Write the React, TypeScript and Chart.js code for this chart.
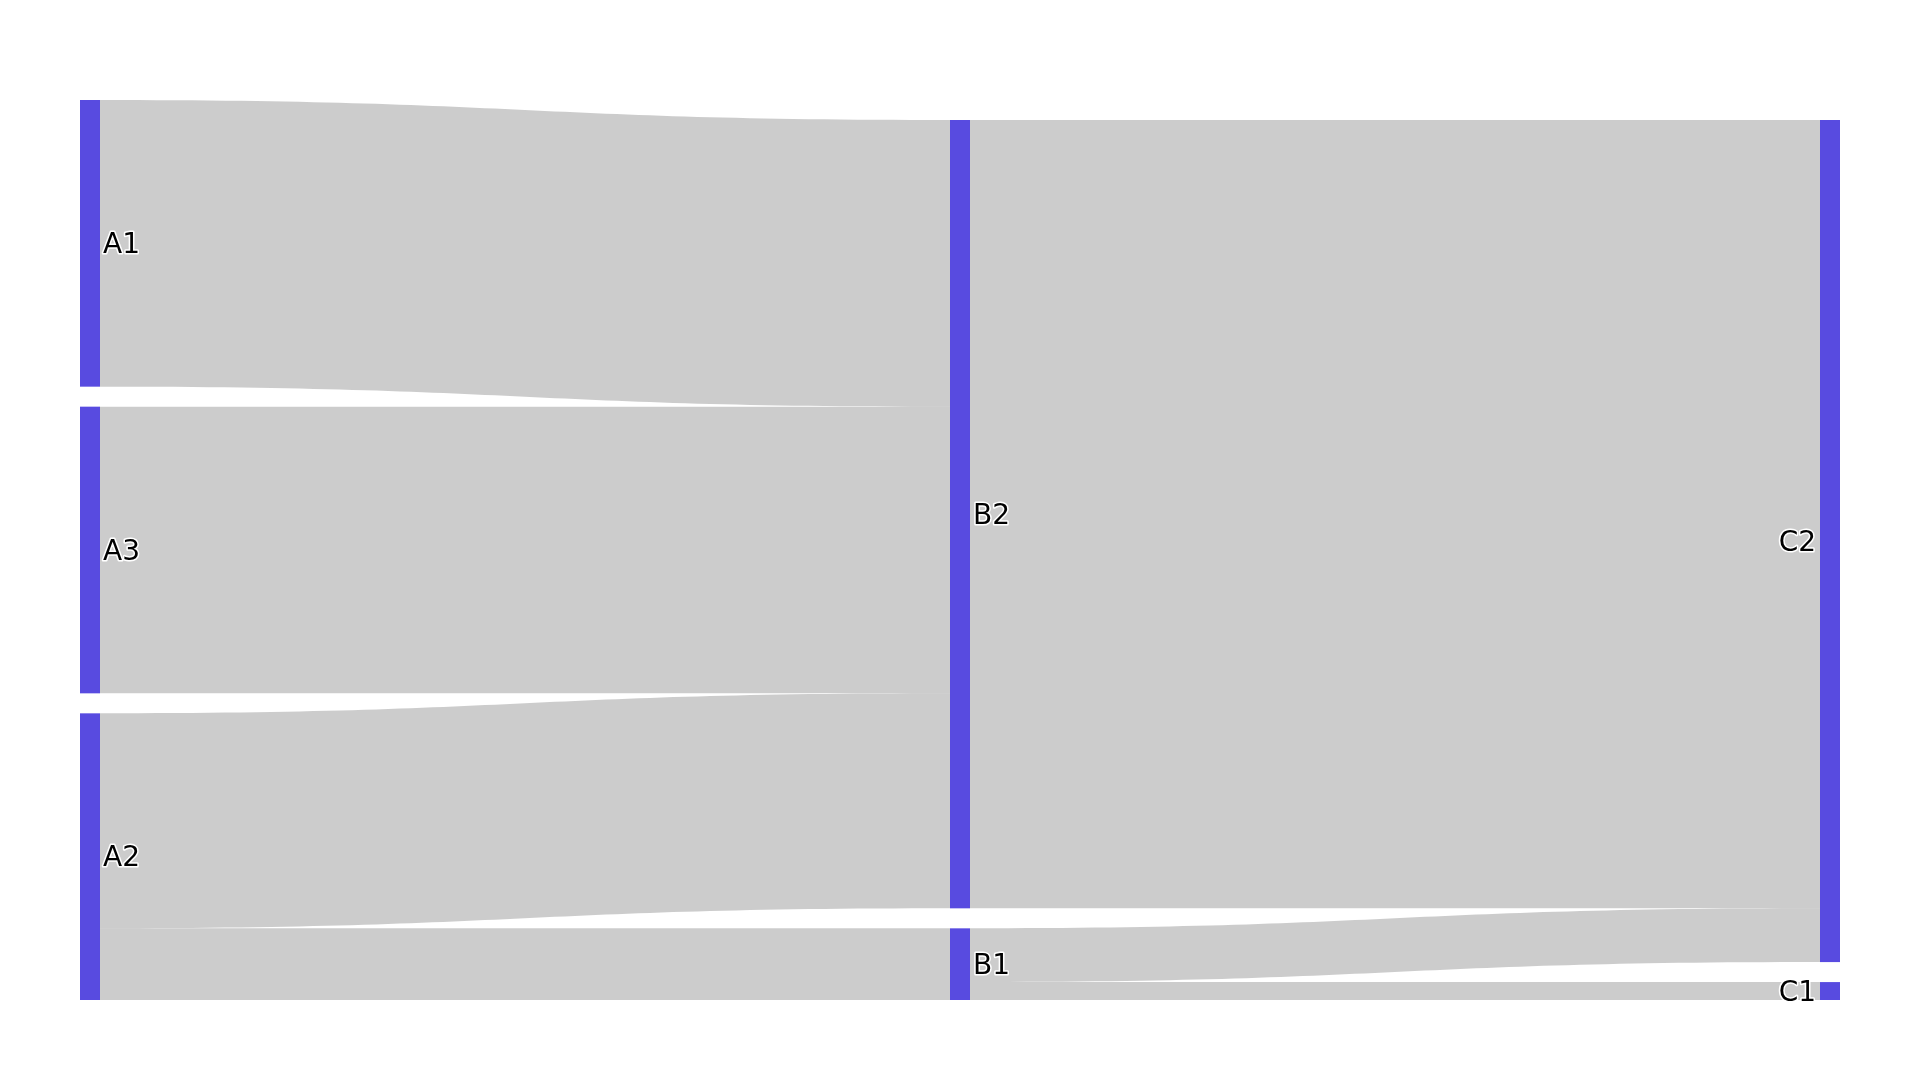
import React, { useEffect, useRef } from 'react';
import { Chart, registerables } from 'chart.js';

Chart.register(...registerables);

// ---- data ----
const NODE_LABELS = ['A1', 'A3', 'A2', 'B2', 'B1', 'C2', 'C1'];
const NODE_COLUMNS = [0, 0, 0, 1, 1, 2, 2];
const LINK_SOURCES = ['A1', 'A3', 'A2', 'A2', 'B2', 'B1', 'B1'];
const LINK_TARGETS = ['B2', 'B2', 'B2', 'B1', 'C2', 'C2', 'C1'];
const LINK_VALUES = [16, 16, 12, 4, 44, 3, 1];

// ---- style ----
const W = 1920;
const H = 1080;
const PAD = { left: 90, right: 90, top: 100, bottom: 80 };
const NODE_WIDTH = 20;
const NODE_GAP_PX = 20;
const NODE_COLOR = '#584be0';
const LINK_COLOR = 'rgba(0,0,0,0.2)';
const FONT_SIZE = 28;
const FONT = `${FONT_SIZE}px "DejaVu Sans", Verdana, sans-serif`;

type Node = { label: string; col: number; value: number; y0: number; y1: number; outs: number[]; ins: number[] };

function buildLayout() {
  const plotH = H - PAD.top - PAD.bottom;
  const nodes: Node[] = NODE_LABELS.map((label, i) => ({ label, col: NODE_COLUMNS[i], value: 0, y0: 0, y1: 0, outs: [], ins: [] }));
  const idx = (l: string) => NODE_LABELS.indexOf(l);
  LINK_VALUES.forEach((v, i) => {
    nodes[idx(LINK_SOURCES[i])].outs.push(i);
    nodes[idx(LINK_TARGETS[i])].ins.push(i);
  });
  nodes.forEach((n) => {
    const sIn = n.ins.reduce((a, i) => a + LINK_VALUES[i], 0);
    const sOut = n.outs.reduce((a, i) => a + LINK_VALUES[i], 0);
    n.value = Math.max(sIn, sOut);
  });
  const nCols = Math.max(...NODE_COLUMNS) + 1;
  const cols: Node[][] = Array.from({ length: nCols }, () => []);
  nodes.forEach((n) => cols[n.col].push(n));
  let ky = Infinity;
  cols.forEach((c) => {
    const sum = c.reduce((a, n) => a + n.value, 0);
    ky = Math.min(ky, (plotH - (c.length - 1) * NODE_GAP_PX) / sum);
  });
  const gapUnits = NODE_GAP_PX / ky;
  const yMax = plotH / ky;
  cols.forEach((c) => {
    let y = yMax;
    for (let k = c.length - 1; k >= 0; k--) {
      const n = c[k];
      n.y1 = y;
      n.y0 = y - n.value;
      y = n.y0 - gapUnits;
    }
  });
  // link offsets
  const sy0 = new Array(LINK_VALUES.length).fill(0);
  const ty0 = new Array(LINK_VALUES.length).fill(0);
  nodes.forEach((n) => {
    const outs = [...n.outs].sort((a, b) => nodes[idx(LINK_TARGETS[a])].y0 - nodes[idx(LINK_TARGETS[b])].y0);
    let y = n.y0;
    outs.forEach((i) => { sy0[i] = y; y += LINK_VALUES[i]; });
    const ins = [...n.ins].sort((a, b) => nodes[idx(LINK_SOURCES[a])].y0 - nodes[idx(LINK_SOURCES[b])].y0);
    y = n.y0;
    ins.forEach((i) => { ty0[i] = y; y += LINK_VALUES[i]; });
  });
  return { nodes, sy0, ty0, yMax, nCols, idx };
}

export default function App() {
  const ref = useRef<HTMLCanvasElement | null>(null);
  useEffect(() => {
    document.body.style.margin = '0';
    const layout = buildLayout();
    const { nodes, sy0, ty0, yMax, nCols, idx } = layout;
    const sankeyPlugin = {
      id: 'sankeyDraw',
      afterDatasetsDraw(chart: any) {
        const ctx = chart.ctx as CanvasRenderingContext2D;
        const xs = chart.scales.x;
        const ys = chart.scales.y;
        const hw = NODE_WIDTH / 2;
        ctx.save();
        // links
        LINK_VALUES.forEach((v, i) => {
          const s = nodes[idx(LINK_SOURCES[i])];
          const t = nodes[idx(LINK_TARGETS[i])];
          const x0 = xs.getPixelForValue(s.col) + hw;
          const x1 = xs.getPixelForValue(t.col) - hw;
          const xm = (x0 + x1) / 2;
          const a0 = ys.getPixelForValue(sy0[i]);
          const a1 = ys.getPixelForValue(sy0[i] + v);
          const b0 = ys.getPixelForValue(ty0[i]);
          const b1 = ys.getPixelForValue(ty0[i] + v);
          ctx.beginPath();
          ctx.moveTo(x0, a0);
          ctx.bezierCurveTo(xm, a0, xm, b0, x1, b0);
          ctx.lineTo(x1, b1);
          ctx.bezierCurveTo(xm, b1, xm, a1, x0, a1);
          ctx.closePath();
          ctx.fillStyle = LINK_COLOR;
          ctx.fill();
        });
        // nodes
        nodes.forEach((n) => {
          const cx = xs.getPixelForValue(n.col);
          const top = ys.getPixelForValue(n.y0);
          const bot = ys.getPixelForValue(n.y1);
          ctx.fillStyle = NODE_COLOR;
          ctx.fillRect(cx - hw, top, NODE_WIDTH, bot - top);
        });
        // labels
        ctx.font = FONT;
        ctx.textBaseline = 'alphabetic';
        ctx.lineJoin = 'round';
        nodes.forEach((n) => {
          const cx = xs.getPixelForValue(n.col);
          const cy = (ys.getPixelForValue(n.y0) + ys.getPixelForValue(n.y1)) / 2;
          const last = n.col === nCols - 1;
          const x = last ? cx - hw - 4 : cx + hw + 3;
          ctx.textAlign = last ? 'right' : 'left';
          const y = cy + 0.35 * FONT_SIZE;
          ctx.strokeStyle = '#ffffff';
          ctx.lineWidth = 3;
          ctx.strokeText(n.label, x, y);
          ctx.fillStyle = '#000000';
          ctx.fillText(n.label, x, y);
        });
        ctx.restore();
      },
    };
    const chart = new Chart(ref.current as HTMLCanvasElement, {
      type: 'scatter',
      data: { datasets: [{ data: [] }] },
      options: {
        animation: false,
        responsive: false,
        devicePixelRatio: 1,
        layout: { padding: PAD },
        scales: {
          x: { type: 'linear', min: 0, max: nCols - 1, display: false },
          y: { type: 'linear', min: 0, max: yMax, reverse: true, display: false },
        },
        plugins: { legend: { display: false }, tooltip: { enabled: false } },
      },
      plugins: [sankeyPlugin],
    } as any);
    return () => chart.destroy();
  }, []);
  return (
    <div style={{ position: 'absolute', left: 0, top: 0, width: W, height: H, background: '#fff' }}>
      <canvas ref={ref} width={W} height={H} style={{ display: 'block' }} />
    </div>
  );
}
